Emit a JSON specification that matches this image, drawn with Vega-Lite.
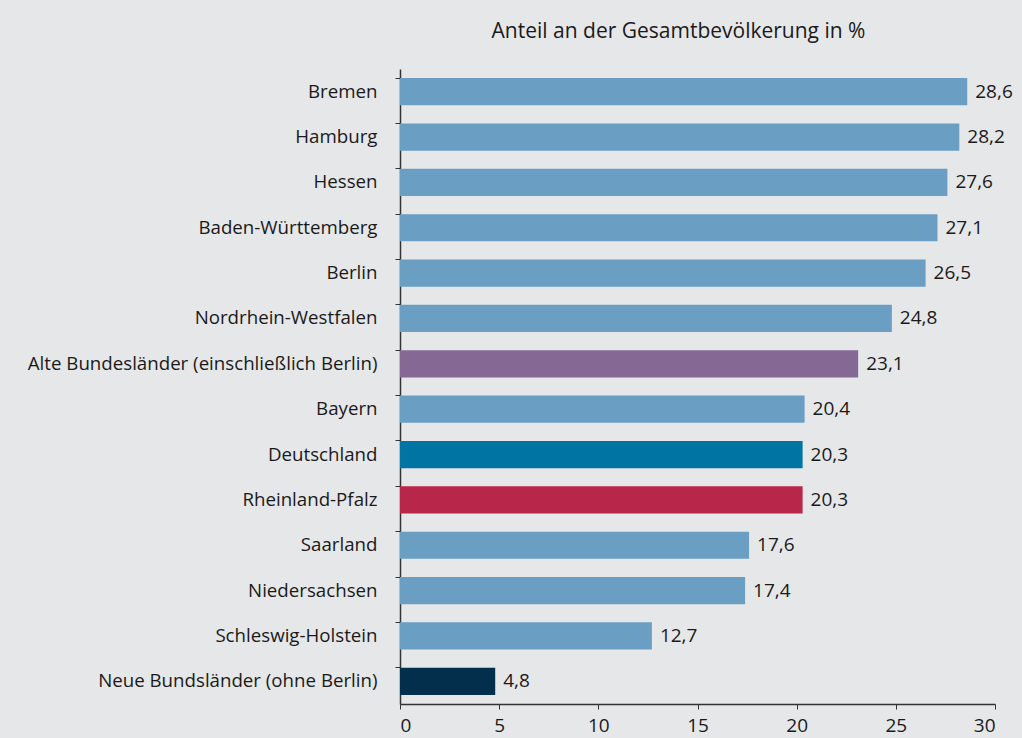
{
  "$schema": "https://vega.github.io/schema/vega-lite/v6.json",
  "width": 595,
  "height": 635,
  "autosize": {"type": "none"},
  "padding": {"left": 400, "top": 69, "right": 27, "bottom": 34},
  "background": "#e6e7e9",
  "title": {
    "text": "Anteil an der Gesamtbevölkerung in %",
    "anchor": "middle",
    "dx": -19,
    "offset": 27,
    "font": "Open Sans",
    "fontSize": 21,
    "fontWeight": "normal",
    "color": "#1a1a1a"
  },
  "data": {
    "values": [
      {"region": "Bremen", "wert": 28.6, "gruppe": "Land"},
      {"region": "Hamburg", "wert": 28.2, "gruppe": "Land"},
      {"region": "Hessen", "wert": 27.6, "gruppe": "Land"},
      {"region": "Baden-Württemberg", "wert": 27.1, "gruppe": "Land"},
      {"region": "Berlin", "wert": 26.5, "gruppe": "Land"},
      {"region": "Nordrhein-Westfalen", "wert": 24.8, "gruppe": "Land"},
      {"region": "Alte Bundesländer (einschließlich Berlin)", "wert": 23.1, "gruppe": "Alt"},
      {"region": "Bayern", "wert": 20.4, "gruppe": "Land"},
      {"region": "Deutschland", "wert": 20.3, "gruppe": "Deutschland"},
      {"region": "Rheinland-Pfalz", "wert": 20.3, "gruppe": "RLP"},
      {"region": "Saarland", "wert": 17.6, "gruppe": "Land"},
      {"region": "Niedersachsen", "wert": 17.4, "gruppe": "Land"},
      {"region": "Schleswig-Holstein", "wert": 12.7, "gruppe": "Land"},
      {"region": "Neue Bundsländer (ohne Berlin)", "wert": 4.8, "gruppe": "Neu"}
    ]
  },
  "encoding": {
    "y": {
      "field": "region",
      "type": "nominal",
      "sort": null,
      "scale": {"paddingInner": 0.4, "paddingOuter": 0.2},
      "axis": {
        "title": null,
        "bandPosition": 0,
        "tickSize": 5,
        "labelPadding": 18,
        "labelFont": "Open Sans",
        "labelFontSize": 18.7,
        "labelColor": "#1a1a1a",
        "domainColor": "#333333",
        "tickColor": "#333333",
        "domainWidth": 1.5,
        "labelLimit": 400
      }
    },
    "x": {
      "field": "wert",
      "type": "quantitative",
      "scale": {"domain": [0, 30], "nice": false},
      "axis": {
        "title": null,
        "values": [0, 5, 10, 15, 20, 25, 30],
        "format": "d",
        "grid": false,
        "tickSize": 5,
        "labelPadding": 7,
        "labelFont": "Open Sans",
        "labelFontSize": 19,
        "labelColor": "#1a1a1a",
        "domainColor": "#333333",
        "tickColor": "#333333",
        "domainWidth": 1.5
      }
    }
  },
  "layer": [
    {
      "mark": {"type": "bar"},
      "encoding": {
        "color": {
          "field": "gruppe",
          "type": "nominal",
          "scale": {
            "domain": ["Land", "Alt", "Deutschland", "RLP", "Neu"],
            "range": ["#6a9ec3", "#856893", "#0075a4", "#b8264a", "#032e4c"]
          },
          "legend": null
        }
      }
    },
    {
      "mark": {"type": "text", "align": "left", "dx": 8, "font": "Open Sans", "fontSize": 19, "color": "#1a1a1a"},
      "encoding": {
        "text": {"field": "wert", "type": "quantitative", "format": ".1f"}
      }
    }
  ],
  "config": {
    "view": {"stroke": null},
    "locale": {
      "number": {"decimal": ",", "thousands": ".", "grouping": [3], "currency": ["", " €"]}
    }
  }
}
